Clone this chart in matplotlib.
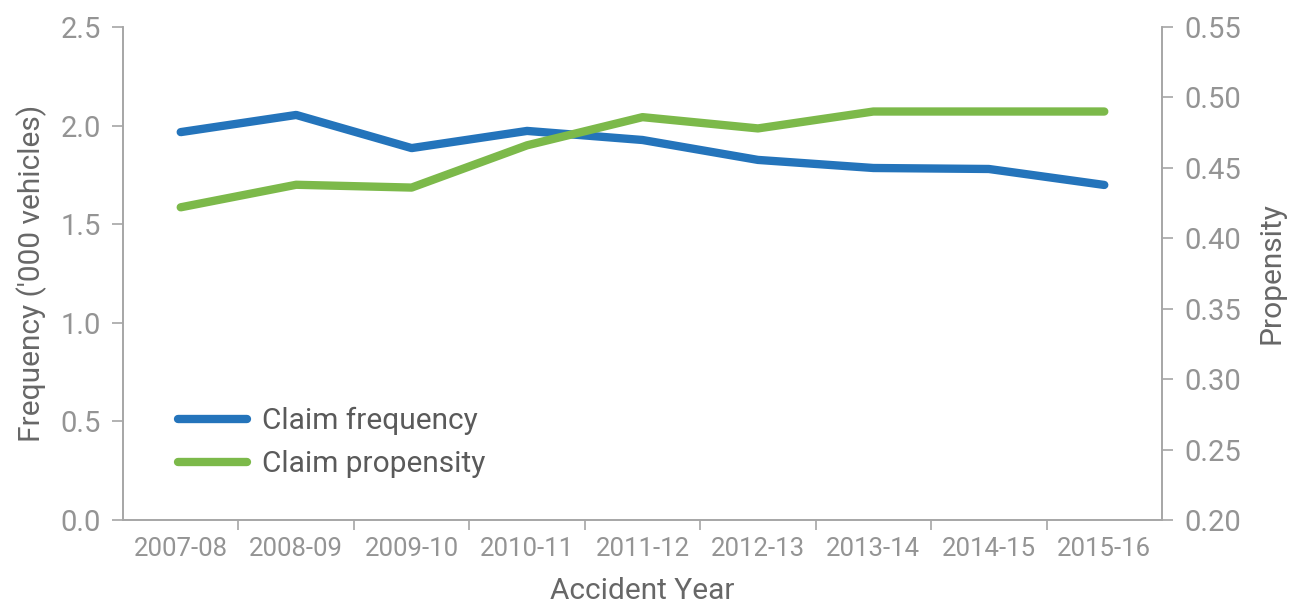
import matplotlib.pyplot as plt
import numpy as np

years = ['2007-08', '2008-09', '2009-10', '2010-11', '2011-12',
         '2012-13', '2013-14', '2014-15', '2015-16']
claim_frequency = [1.967, 2.054, 1.886, 1.973, 1.927, 1.826, 1.785, 1.780, 1.699]
claim_propensity = [0.422, 0.438, 0.436, 0.466, 0.486, 0.478, 0.490, 0.490, 0.490]

plt.rcParams['font.family'] = ['Roboto', 'DejaVu Sans']

tick_col = '#949494'
label_col = '#676767'
spine_col = '#a6a6a6'
blue = '#2474bb'
green = '#7cb94a'

fig = plt.figure(figsize=(12.96, 6.05), dpi=100)
ax = fig.add_axes([123/1296, 1 - 520/605, (1162-123)/1296, (520-27)/605])
ax2 = ax.twinx()

x = np.arange(len(years))
l1, = ax.plot(x, claim_frequency, color=blue, lw=6, solid_capstyle='round',
              solid_joinstyle='round', label='Claim frequency')
l2, = ax2.plot(x, claim_propensity, color=green, lw=6, solid_capstyle='round',
               solid_joinstyle='round', label='Claim propensity')

ax.set_xlim(-0.5, len(years) - 0.5)
ax.set_ylim(0, 2.5)
yl = np.arange(0, 2.51, 0.5)
ax.set_yticks(yl)
ax.set_yticklabels(['%.1f' % v for v in yl])
ax2.set_ylim(0.20, 0.55)
yr = np.arange(0.20, 0.551, 0.05)
ax2.set_yticks(yr)
ax2.set_yticklabels(['%.2f' % v for v in yr])

ax.set_xticks(x)
ax.set_xticklabels(years)
ax.set_xticks(np.arange(0.5, len(years) - 1, 1), minor=True)
ax.tick_params(axis='x', which='major', length=0, pad=12, labelsize=18.5, labelcolor=tick_col)
ax.tick_params(axis='x', which='minor', length=7, width=1.2, color=spine_col, direction='out')
ax.tick_params(axis='y', length=8, width=1.2, color=spine_col, labelsize=21,
               labelcolor=tick_col, pad=8)
ax2.tick_params(axis='y', length=8, width=1.2, color=spine_col, labelsize=21,
                labelcolor=tick_col, pad=8)

for a in (ax, ax2):
    a.spines['top'].set_visible(False)
    for s in ('left', 'right', 'bottom'):
        a.spines[s].set_color(spine_col)
        a.spines[s].set_linewidth(1.2)

ax.set_xlabel('Accident Year', fontsize=21.5, color=label_col, labelpad=12)
ax.set_ylabel("Frequency ('000 vehicles)", fontsize=21.5, color=label_col, labelpad=10)
ax2.set_ylabel('Propensity', fontsize=21.5, color=label_col, labelpad=12)

leg = ax.legend(handles=[l1, l2], loc='lower left', bbox_to_anchor=(0.027, 0.03),
                frameon=False, fontsize=21.5, handlelength=2.3, handletextpad=0.5,
                labelspacing=0.5)
for t in leg.get_texts():
    t.set_color('#5a5a5a')

fig.savefig('out.png', dpi=100)
